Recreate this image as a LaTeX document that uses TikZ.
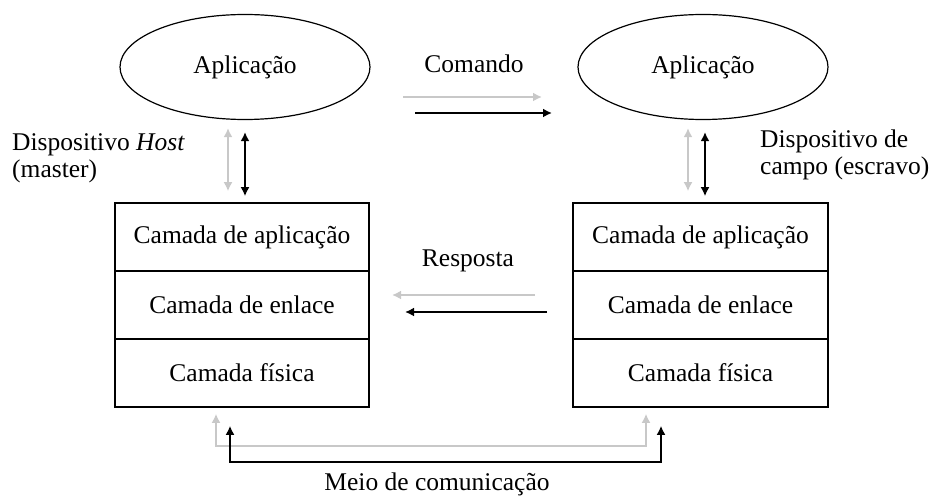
\documentclass[tikz,border=0pt]{standalone}
\usepackage{fontspec}
\setmainfont{Liberation Serif}
\usepackage{tikz}
\usetikzlibrary{arrows.meta,shapes.geometric}
\usepackage{xcolor}
\definecolor{cinza}{RGB}{200,200,200}

\begin{document}
\begin{tikzpicture}[x=1pt, y=-1pt,
        >={Latex[length=9pt, width=9pt]},
        every node/.style={font=\fontsize{25.5}{27}\selectfont},
        app/.style={ellipse, draw, line width=1.2pt, minimum width=250pt, minimum height=105pt},
        camada/.style={rectangle, draw, line width=1.6pt, minimum height=68pt},
        preta/.style={line width=1.8pt, black},
        clara/.style={line width=1.8pt, cinza}]

        \useasboundingbox (0,0) rectangle (937,497);

        % aplicacoes
        \node[app] (appL) at (245,67) {Aplicação};
        \node[app] (appR) at (703,67) {Aplicação};

        % pilha do host
        \node[camada, minimum width=254pt] (camApL) at (242,237) {Camada de aplicação};
        \node[camada, minimum width=254pt] (camEnL) at (242,305) {Camada de enlace};
        \node[camada, minimum width=254pt] (camFisL) at (242,373) {Camada física};

        % pilha do dispositivo de campo
        \node[camada, minimum width=255pt] (camApR) at (700.5,237) {Camada de aplicação};
        \node[camada, minimum width=255pt] (camEnR) at (700.5,305) {Camada de enlace};
        \node[camada, minimum width=255pt] (camFisR) at (700.5,373) {Camada física};

        % textos
        \node[anchor=west, align=left, inner sep=0pt] (hostTxt) at (12,158) {Dispositivo \textit{Host}\\(master)};
        \node[anchor=west, align=left, inner sep=0pt] (campoTxt) at (760,155) {Dispositivo de\\campo (escravo)};
        \node[anchor=base] (cmdTxt) at (474,73) {Comando};
        \node[anchor=base] (respTxt) at (468,266) {Resposta};
        \node[anchor=base] (meioTxt) at (437,490) {Meio de comunicação};

        % aplicacao <-> camada de aplicacao
        \draw[clara, <->, shorten <=8pt, shorten >=11pt] ([xshift=-17pt]appL.south) -- ([xshift=-17pt]appL.south |- camApL.north);
        \draw[preta, <->, shorten <=12pt, shorten >=6pt] (appL.south) -- (appL.south |- camApL.north);
        \draw[clara, <->, shorten <=8pt, shorten >=11pt] ([xshift=-15pt]appR.south) -- ([xshift=-15pt]appR.south |- camApR.north);
        \draw[preta, <->, shorten <=12pt, shorten >=6pt] ([xshift=2pt]appR.south) -- ([xshift=2pt]appR.south |- camApR.north);

        % comando
        \coordinate (cmdClaroA) at (403,97);
        \coordinate (cmdClaroB) at (542,97);
        \coordinate (cmdPretoA) at (415,113);
        \coordinate (cmdPretoB) at (552,113);
        \draw[clara, ->] (cmdClaroA) -- (cmdClaroB);
        \draw[preta, ->] (cmdPretoA) -- (cmdPretoB);

        % resposta
        \coordinate (respClaroA) at (535,295);
        \coordinate (respClaroB) at (392,295);
        \coordinate (respPretoA) at (547,312);
        \coordinate (respPretoB) at (405,312);
        \draw[clara, ->] (respClaroA) -- (respClaroB);
        \draw[preta, ->] (respPretoA) -- (respPretoB);

        % meio de comunicacao
        \draw[clara, <->, shorten <=6pt, shorten >=6pt] ([xshift=-26pt]camFisL.south) -- ++(0,38) -| ([xshift=-54.5pt]camFisR.south);
        \draw[preta, <->, shorten <=18pt, shorten >=18pt] ([xshift=-12pt]camFisL.south) -- ++(0,54) -| ([xshift=-39.5pt]camFisR.south);

\end{tikzpicture}
\end{document}
